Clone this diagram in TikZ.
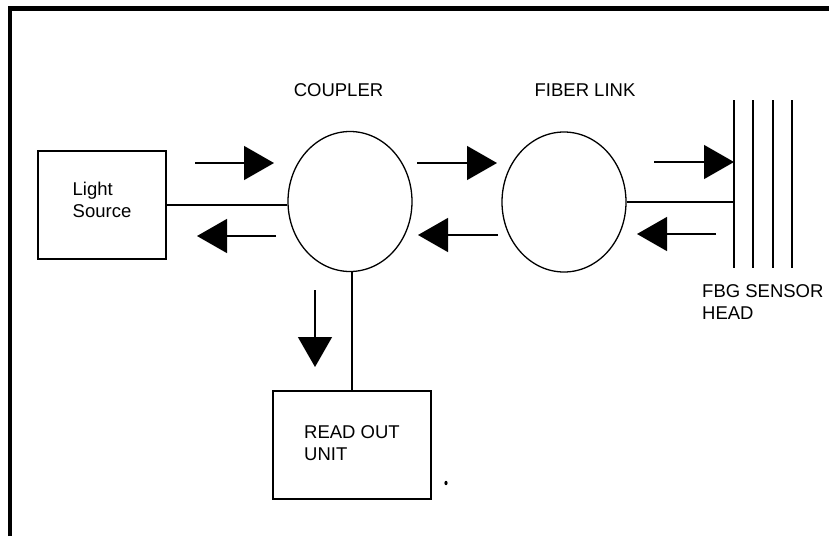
\documentclass[tikz,border=0pt]{standalone}
\usepackage{fontspec}
\setmainfont{Liberation Sans}
\usetikzlibrary{arrows.meta,shapes.geometric}

\tikzset{
  lbl/.style={font=\fontsize{18.5}{22.5}\selectfont, inner sep=0pt, align=left},
  unitbox/.style={draw, line width=1.3pt, lbl},
  port/.style={draw, ellipse, line width=1.3pt, minimum width=124pt, minimum height=140pt, inner sep=0pt},
  link/.style={line width=1.3pt},
  flow/.style={line width=1.3pt, -{Triangle[length=30pt, width=34pt]}},
  grating/.style={line width=1.5pt},
  frame/.style={line width=4.8pt}
}

\begin{document}
\begin{tikzpicture}[x=1pt, y=-1pt]
  \useasboundingbox (0,0) rectangle (829,536);

  % outer frame: top and left edges only
  \draw[frame] (10,536) -- (10,8.5) -- (829,8.5);

  % blocks (the rule lifts the source text a little above the box centre)
  \node[unitbox, minimum width=128pt, minimum height=108pt] (src) at (102,205) {Light\\Source\rule[-10pt]{0pt}{10pt}};
  \node[port] (coupler) at (350,201.5) {};
  \node[port] (fiber) at (564,202) {};
  \node[unitbox, minimum width=158pt, minimum height=108pt] (readout) at (352,445) {READ OUT\\UNIT\rule[-4pt]{0pt}{4pt}};

  % titles
  \node[lbl] (tcoupler) at (338.5,90) {COUPLER};
  \node[lbl] (tfiber) at (585,90) {FIBER LINK};

  % FBG sensor head: four parallel gratings
  \coordinate (g1t) at (734,100); \coordinate (g1b) at (734,268);
  \coordinate (g2t) at (753,100); \coordinate (g2b) at (753,268);
  \coordinate (g3t) at (773,100); \coordinate (g3b) at (773,268);
  \coordinate (g4t) at (792,100); \coordinate (g4b) at (792,268);
  \draw[grating] (g1t) -- (g1b);
  \draw[grating] (g2t) -- (g2b);
  \draw[grating] (g3t) -- (g3b);
  \draw[grating] (g4t) -- (g4b);
  \node[lbl, anchor=north west] (thead) at (702,284) {FBG SENSOR\\HEAD};

  % fibre connections
  \draw[link] (src.east) -- (src.east -| coupler.west);
  \draw[link] (fiber.east) -- (fiber.east -| g1t);
  \draw[link] (readout.north) -- (readout.north |- coupler.south);

  % direction-of-light arrows
  \coordinate (a1s) at (195,163); \coordinate (a1e) at (274,163);
  \coordinate (a2s) at (276,236); \coordinate (a2e) at (197,236);
  \coordinate (a3s) at (417,163); \coordinate (a3e) at (497,163);
  \coordinate (a4s) at (498,235); \coordinate (a4e) at (418,235);
  \coordinate (a5s) at (654,162); \coordinate (a5e) at (734,162);
  \coordinate (a6s) at (716,234); \coordinate (a6e) at (637,234);
  \coordinate (a7s) at (315,290); \coordinate (a7e) at (315,367);
  \draw[flow] (a1s) -- (a1e);
  \draw[flow] (a2s) -- (a2e);
  \draw[flow] (a3s) -- (a3e);
  \draw[flow] (a4s) -- (a4e);
  \draw[flow] (a5s) -- (a5e);
  \draw[flow] (a6s) -- (a6e);
  \draw[flow] (a7s) -- (a7e);

  % small speck beside the read-out unit
  \fill (446,483) ellipse (1.6pt and 2.2pt);
\end{tikzpicture}
\end{document}
